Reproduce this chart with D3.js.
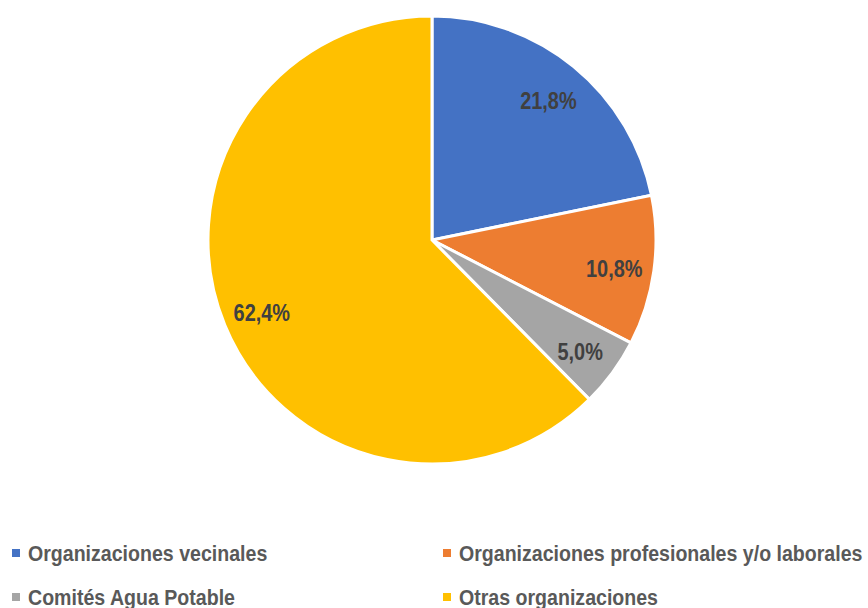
<!DOCTYPE html>
<html>
<head>
<meta charset="utf-8">
<script src="https://cdn.jsdelivr.net/npm/d3@7"></script>
<style>
  body { margin: 0; background: #fff; }
  text { font-family: "Liberation Sans Narrow", "Arial Narrow", "Liberation Sans", Arial, sans-serif; font-weight: bold; }
</style>
</head>
<body>
<div id="chart"></div>
<script>
var categories = ['Organizaciones vecinales', 'Organizaciones profesionales y/o laborales', 'Comités Agua Potable', 'Otras organizaciones'];
var values = [21.8, 10.8, 5.0, 62.4];
var labels = ['21,8%', '10,8%', '5,0%', '62,4%'];
var colors = ['#4472C4', '#ED7D31', '#A5A5A5', '#FFC000'];

var width = 868, height = 608;
var cx = 432, cy = 240, radius = 224;

var svg = d3.select('#chart').append('svg')
    .attr('width', width)
    .attr('height', height);

var data = categories.map((c, i) => ({ name: c, value: values[i], label: labels[i], color: colors[i] }));

var pie = d3.pie().sort(null).value(d => d.value);
var arc = d3.arc().innerRadius(0).outerRadius(radius);
var labelArc = d3.arc().innerRadius(184).outerRadius(184);

var g = svg.append('g')
    .attr('transform', 'translate(' + cx + ',' + cy + ')');

var slices = pie(data);

g.selectAll('.slice')
    .data(slices)
    .enter()
    .append('path')
    .attr('class', 'slice')
    .attr('d', arc)
    .attr('fill', d => d.data.color)
    .attr('stroke', '#fff')
    .attr('stroke-width', 3);

// condensed look: no narrow font installed, so squeeze horizontally
g.selectAll('.lbl')
    .data(slices)
    .enter()
    .append('text')
    .attr('class', 'lbl')
    .attr('transform', d => 'translate(' + labelArc.centroid(d) + ') scale(0.83,1)')
    .attr('text-anchor', 'middle')
    .attr('dominant-baseline', 'central')
    .attr('dy', 3)
    .attr('fill', '#404040')
    .style('font-size', '24px')
    .text(d => d.data.label);

// legend, 2 columns
var legX = [12, 443], legY = [553, 597];
var leg = svg.selectAll('.leg')
    .data(data)
    .enter()
    .append('g')
    .attr('class', 'leg')
    .attr('transform', (d, i) => 'translate(' + legX[i % 2] + ',' + legY[Math.floor(i / 2)] + ')');

leg.append('rect')
    .attr('x', 0)
    .attr('y', -4)
    .attr('width', 8)
    .attr('height', 8)
    .attr('fill', d => d.color);

leg.append('text')
    .attr('transform', 'translate(16,0) scale(0.89,1)')
    .attr('dominant-baseline', 'central')
    .attr('fill', '#595959')
    .style('font-size', '22px')
    .text(d => d.name);
</script>
</body>
</html>
